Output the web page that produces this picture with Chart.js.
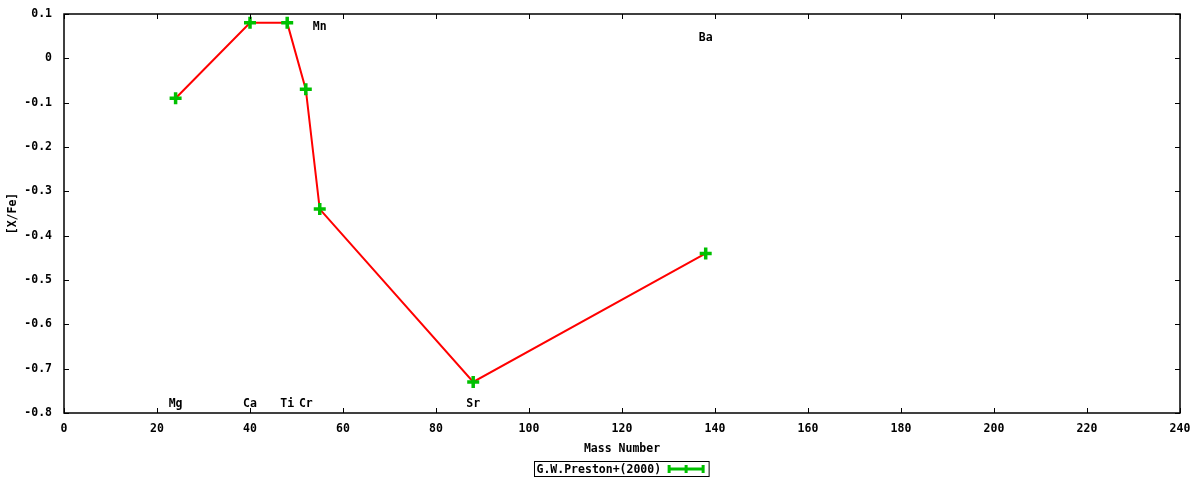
<!DOCTYPE html>
<html lang="en">
<head>
    <meta charset="UTF-8">
    <title>[X/Fe] vs Mass Number</title>
    <script src="https://cdn.jsdelivr.net/npm/chart.js"></script>
    <style>
        body { margin: 0; background: #ffffff; }
        .chart-container { position: relative; width: 1200px; height: 480px; }
    </style>
</head>
<body>
    <div class="chart-container">
        <canvas id="abundChart"></canvas>
    </div>

    <script>
        // Data
        const elements = ['Mg', 'Ca', 'Ti', 'Cr', 'Mn', 'Sr', 'Ba'];
        const massNumbers = [24, 40, 48, 52, 55, 88, 138];
        const xFe = [-0.09, 0.08, 0.08, -0.07, -0.34, -0.73, -0.44];
        // where each element name is written (gnuplot labels)
        const labelX = [24, 40, 48, 52, 55, 88, 138];
        const labelY = [-0.78, -0.78, -0.78, -0.78, 0.07, -0.78, 0.045];
        const xTicks = [0, 20, 40, 60, 80, 100, 120, 140, 160, 180, 200, 220, 240];
        const yTicks = [-0.8, -0.7, -0.6, -0.5, -0.4, -0.3, -0.2, -0.1, 0, 0.1];
        const seriesName = 'G.W.Preston+(2000)';

        const FONT = '"DejaVu Sans Mono", "Liberation Mono", monospace';
        const GREEN = '#00c000';
        const RED = '#ff0000';

        Chart.defaults.font.family = FONT;
        Chart.defaults.font.size = 11.5;
        Chart.defaults.font.weight = 'bold';
        Chart.defaults.color = '#000';

        // frame, inward ticks, element labels and the legend box
        const gnuplotBits = {
            id: 'gnuplotBits',
            afterDatasetsDraw(chart) {
                const { ctx, chartArea: a, scales: { x, y } } = chart;
                ctx.save();
                ctx.strokeStyle = '#000';
                ctx.lineWidth = 1;
                xTicks.forEach(v => {
                    const px = Math.round(x.getPixelForValue(v)) + 0.5;
                    ctx.beginPath();
                    ctx.moveTo(px, a.bottom); ctx.lineTo(px, a.bottom - 5);
                    ctx.moveTo(px, a.top); ctx.lineTo(px, a.top + 5);
                    ctx.stroke();
                });
                yTicks.forEach(v => {
                    const py = Math.round(y.getPixelForValue(v)) + 0.5;
                    ctx.beginPath();
                    ctx.moveTo(a.left, py); ctx.lineTo(a.left + 5, py);
                    ctx.moveTo(a.right, py); ctx.lineTo(a.right - 5, py);
                    ctx.stroke();
                });
                ctx.lineWidth = 1.5;
                ctx.strokeRect(a.left, a.top, a.right - a.left, a.bottom - a.top);

                ctx.font = 'bold 11.5px ' + FONT;
                ctx.fillStyle = '#000';
                ctx.textAlign = 'center';
                ctx.textBaseline = 'middle';
                elements.forEach((el, i) => {
                    ctx.fillText(el, x.getPixelForValue(labelX[i]), y.getPixelForValue(labelY[i]));
                });

                // legend box
                const tw = ctx.measureText(seriesName).width;
                const boxW = tw + 50, boxH = 15;
                const bx = Math.round(621 - boxW / 2) + 0.5, by = 461.5;
                ctx.lineWidth = 1;
                ctx.strokeRect(bx, by, boxW, boxH);
                ctx.textAlign = 'left';
                ctx.fillText(seriesName, bx + 2, by + boxH / 2 + 1);
                const sx0 = bx + tw + 10, sx1 = bx + boxW - 6, sy = by + boxH / 2;
                ctx.strokeStyle = GREEN;
                ctx.lineWidth = 3;
                ctx.beginPath();
                ctx.moveTo(sx0, sy); ctx.lineTo(sx1, sy);
                ctx.moveTo(sx0, sy - 4); ctx.lineTo(sx0, sy + 4);
                ctx.moveTo(sx1, sy - 4); ctx.lineTo(sx1, sy + 4);
                const mid = (sx0 + sx1) / 2;
                ctx.moveTo(mid, sy - 4); ctx.lineTo(mid, sy + 4);
                ctx.stroke();
                ctx.restore();
            }
        };

        const ctx = document.getElementById('abundChart').getContext('2d');
        new Chart(ctx, {
            type: 'line',
            data: {
                datasets: [{
                    label: seriesName,
                    data: massNumbers.map((m, i) => ({ x: m, y: xFe[i] })),
                    borderColor: RED,
                    borderWidth: 2,
                    pointStyle: 'cross',
                    pointRadius: 6,
                    pointBorderWidth: 3.5,
                    pointBorderColor: GREEN,
                    pointBackgroundColor: GREEN,
                    tension: 0
                }]
            },
            options: {
                responsive: true,
                maintainAspectRatio: false,
                animation: false,
                layout: { padding: { top: 14, right: 20, left: 6, bottom: 24 } },
                plugins: { legend: { display: false }, tooltip: { enabled: false } },
                scales: {
                    x: {
                        type: 'linear',
                        min: 0, max: 240,
                        afterBuildTicks: s => { s.ticks = xTicks.map(v => ({ value: v })); },
                        ticks: { padding: 9, maxRotation: 0 },
                        grid: { display: false, drawTicks: false },
                        border: { display: false },
                        title: { display: true, text: 'Mass Number', padding: { top: 4, bottom: 0 } },
                        afterFit: s => { s.height = 43; }
                    },
                    y: {
                        type: 'linear',
                        min: -0.8, max: 0.1,
                        afterBuildTicks: s => { s.ticks = yTicks.map(v => ({ value: v })); },
                        ticks: {
                            padding: 12,
                            callback: v => (Math.abs(v) < 1e-9 ? '0' : (Math.round(v * 10) / 10).toFixed(1))
                        },
                        grid: { display: false, drawTicks: false },
                        border: { display: false },
                        title: { display: true, text: '[X/Fe]', padding: { top: 0, bottom: 0 } },
                        afterFit: s => { s.width = 58; s.paddingTop = 0; s.paddingBottom = 0; }
                    }
                }
            },
            plugins: [gnuplotBits]
        });
    </script>
</body>
</html>
